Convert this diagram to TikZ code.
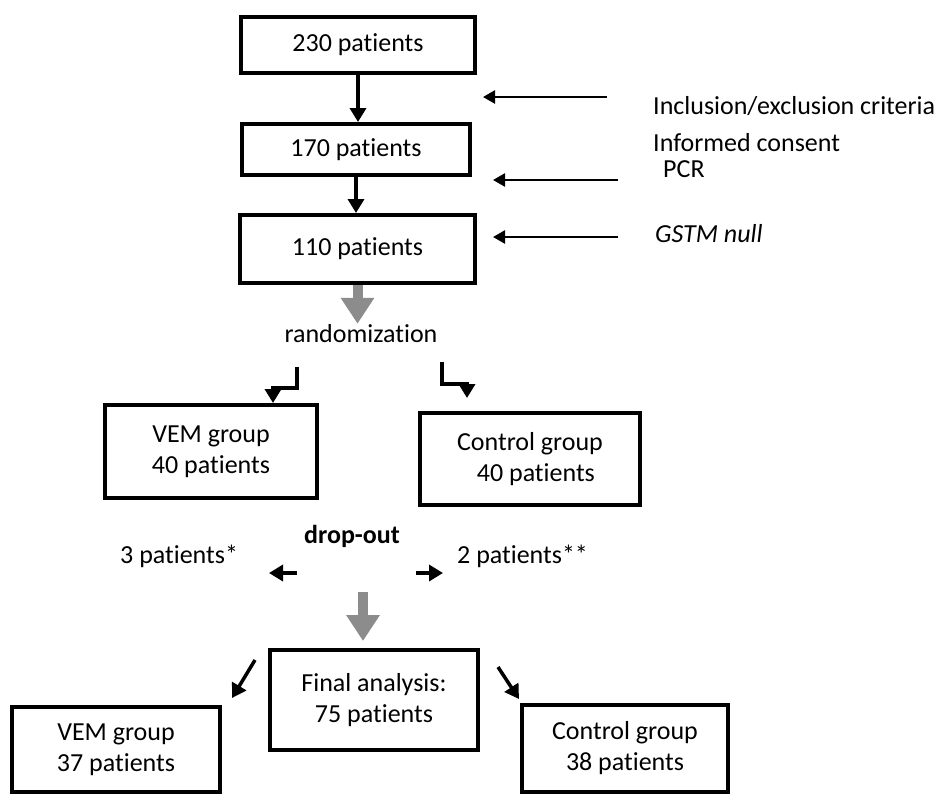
\documentclass[tikz,border=0pt]{standalone}
\usepackage{fontspec}
\setmainfont{Carlito}[Ligatures=NoCommon]
\usepackage{tikz}
\usetikzlibrary{arrows.meta, calc, positioning}

\definecolor{arrowgray}{RGB}{140,140,140}

\begin{document}
\begin{tikzpicture}[x=1pt, y=-1pt,
    font=\fontsize{26}{31}\selectfont,
    box/.style={draw, line width=4pt, inner sep=0pt, align=center},
    arr/.style={line width=3.5pt, -{Triangle[length=14pt,width=16pt]}},
    sidearr/.style={line width=2.5pt, -{Triangle[length=12pt,width=13pt]}},
    grayarr/.style={arrowgray, line width=10pt, -{Triangle[length=26pt,width=32pt]}},
    lbl/.style={inner sep=0pt, anchor=base west}]
    \useasboundingbox (0,0) rectangle (944,804);
    % Screening
    \node[box, minimum width=234pt, minimum height=56pt] (b230) at (358,45) {230 patients};
    \node[box, minimum width=228pt, minimum height=51pt] (b170) at (356,149.5) {170 patients};
    \node[box, minimum width=235pt, minimum height=68pt] (b110) at (357.5,249) {110 patients};
    \draw[arr] (b230.south) -- (b230.south |- b170.north);
    \draw[arr] (b170.south) -- (b170.south |- b110.north);
    % Criteria on the right
    \node[lbl] (incl) at (653,114) {Inclusion/exclusion criteria};
    \node[lbl] (cons) at (653,151) {Informed consent};
    \node[lbl] (pcr) at (663,177) {PCR};
    \node[lbl] (gstm) at (655,242) {\itshape GSTM null};
    \coordinate (s1) at (607,97);  \coordinate (e1) at (483,97);
    \coordinate (s2) at (618,180); \coordinate (e2) at (493,180);
    \coordinate (s3) at (618,237); \coordinate (e3) at (493,237);
    \foreach \i in {1,2,3}
        \draw[sidearr] (s\i) -- (e\i);
    % Randomization
    \node[inner sep=0pt, anchor=base] (rand) at (361,342) {randomization};
    \draw[grayarr] (b110.south) -- (b110.south |- rand.north);
    \node[box, minimum width=212pt, minimum height=93pt] (vem40) at (211,451.5) {VEM group\\40 patients};
    \node[box, minimum width=220pt, minimum height=92pt] (ctl40) at (530,459) {Control group\\\ \ 40 patients};
    \coordinate (rl) at (297,367);
    \coordinate (rr) at (442,362);
    \draw[arr] (rl) -- ++(0,21) -| ([xshift=62pt]vem40.north);
    \draw[arr, shorten >=13pt] (rr) -- ++(0,22) -| ([xshift=-63pt]ctl40.north);
    % Drop-out
    \node[inner sep=0pt, anchor=base, font=\fontsize{26}{31}\selectfont\bfseries] (drop) at (352,543) {drop-out};
    \node[lbl] (p3) at (120,563) {3 patients*};
    \node[lbl] (p2) at (457,563) {2 patients**};
    \coordinate (dls) at (297,573); \coordinate (dle) at (269,573);
    \coordinate (drs) at (416,573); \coordinate (dre) at (443,573);
    \draw[arr] (dls) -- (dle);
    \draw[arr] (drs) -- (dre);
    % Final analysis
    \node[box, minimum width=208pt, minimum height=100pt] (final) at (374,700) {Final analysis:\\75 patients};
    \coordinate (gs) at (363,592); \coordinate (ge) at (363,641);
    \draw[grayarr] (gs) -- (ge);
    \node[box, minimum width=208pt, minimum height=85pt] (vem37) at (116,749.5) {VEM group\\37 patients};
    \node[box, minimum width=206pt, minimum height=87pt] (ctl38) at (625,748.5) {Control group\\38 patients};
    \coordinate (fls) at (255,660); \coordinate (fle) at (232,698);
    \coordinate (frs) at (498,667); \coordinate (fre) at (519,699);
    \draw[arr] (fls) -- (fle);
    \draw[arr] (frs) -- (fre);
\end{tikzpicture}
\end{document}
